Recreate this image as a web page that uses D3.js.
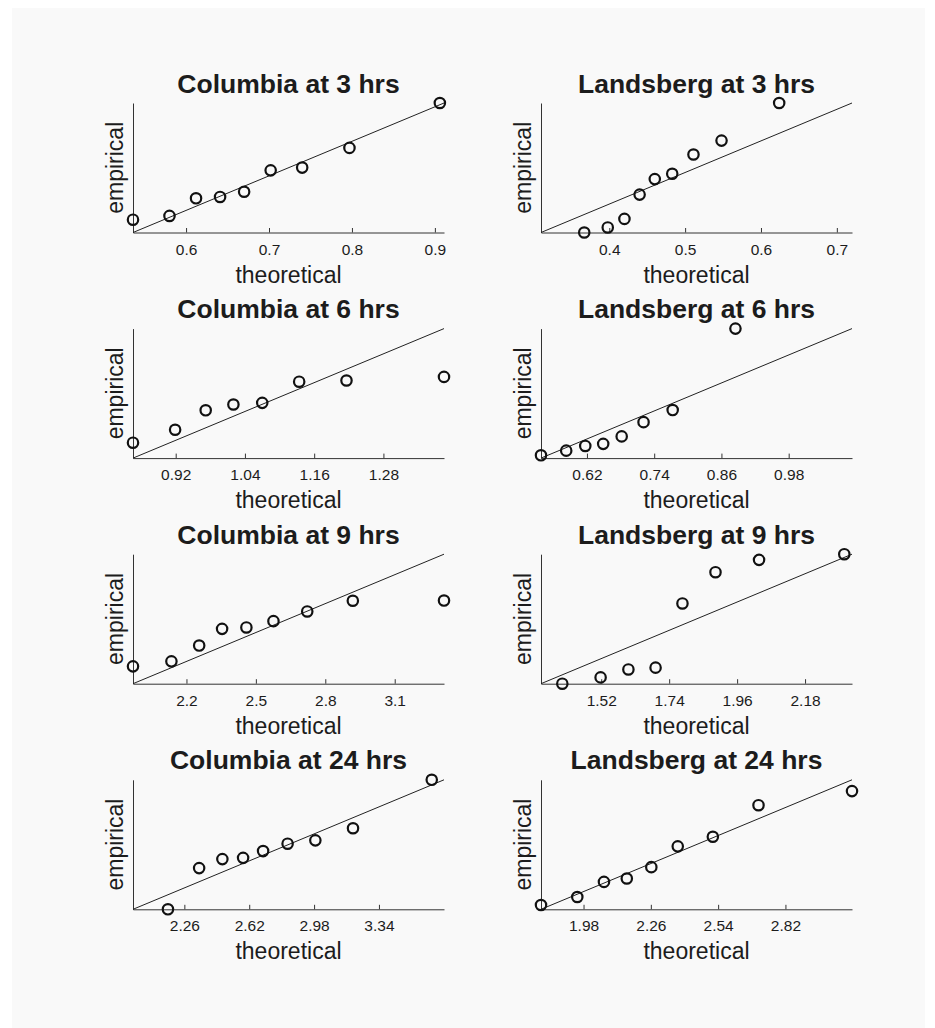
<!DOCTYPE html>
<html lang="en">
<head>
    <meta charset="UTF-8">
    <title>Q-Q plots: Columbia and Landsberg</title>
    <style>
        body {
            margin: 0;
            background: #fff;
            font-family: 'Liberation Sans', Arial, sans-serif;
        }
        .title {
            font-size: 26.5px;
            font-weight: bold;
            fill: #1c1c1c;
        }
        .label {
            font-size: 23px;
            fill: #1c1c1c;
        }
        .axis text {
            font-size: 15.5px;
            fill: #1c1c1c;
            font-family: 'Liberation Sans', Arial, sans-serif;
        }
        .axis path, .axis line {
            stroke: #333;
        }
    </style>
</head>
<body>
    <div id="chart"></div>
    <script src="https://d3js.org/d3.v7.min.js"></script>
    <script>
        const width = 935;
        const height = 1028;

        // Panel titles, in reading order
        const titles = [
            "Columbia at 3 hrs", "Landsberg at 3 hrs",
            "Columbia at 6 hrs", "Landsberg at 6 hrs",
            "Columbia at 9 hrs", "Landsberg at 9 hrs",
            "Columbia at 24 hrs", "Landsberg at 24 hrs"
        ];

        // theoretical vs empirical quantiles
        const col3Theo = [0.536, 0.580, 0.612, 0.641, 0.670, 0.702, 0.740, 0.797, 0.906];
        const col3Emp  = [0.573, 0.584, 0.635, 0.639, 0.654, 0.716, 0.724, 0.781, 0.911];
        const lan3Theo = [0.367, 0.398, 0.420, 0.440, 0.460, 0.483, 0.511, 0.548, 0.624];
        const lan3Emp  = [0.310, 0.326, 0.353, 0.430, 0.479, 0.496, 0.557, 0.601, 0.720];

        const col6Theo = [0.846, 0.919, 0.972, 1.020, 1.070, 1.134, 1.216, 1.385];
        const col6Emp  = [0.910, 0.964, 1.045, 1.069, 1.076, 1.164, 1.169, 1.184];
        const lan6Theo = [0.538, 0.583, 0.617, 0.649, 0.682, 0.721, 0.773, 0.885];
        const lan6Emp  = [0.550, 0.570, 0.590, 0.599, 0.631, 0.692, 0.744, 1.093];

        const col9Theo = [1.969, 2.135, 2.255, 2.354, 2.459, 2.576, 2.722, 2.919, 3.313];
        const col9Emp  = [2.149, 2.201, 2.365, 2.538, 2.553, 2.618, 2.719, 2.830, 2.832];
        const lan9Theo = [1.394, 1.518, 1.608, 1.696, 1.783, 1.890, 2.031, 2.307];
        const lan9Emp  = [1.325, 1.374, 1.436, 1.450, 1.949, 2.192, 2.288, 2.332];

        const col24Theo = [2.169, 2.342, 2.471, 2.586, 2.697, 2.833, 2.987, 3.196, 3.633];
        const col24Emp  = [1.975, 2.524, 2.644, 2.661, 2.751, 2.849, 2.894, 3.055, 3.701];
        const lan24Theo = [1.803, 1.954, 2.065, 2.160, 2.262, 2.372, 2.518, 2.708, 3.097];
        const lan24Emp  = [1.846, 1.926, 2.077, 2.111, 2.224, 2.432, 2.528, 2.843, 2.984];

        // x tick values per panel
        const col3Ticks = [0.6, 0.7, 0.8, 0.9];
        const lan3Ticks = [0.4, 0.5, 0.6, 0.7];
        const col6Ticks = [0.92, 1.04, 1.16, 1.28];
        const lan6Ticks = [0.62, 0.74, 0.86, 0.98];
        const col9Ticks = [2.2, 2.5, 2.8, 3.1];
        const lan9Ticks = [1.52, 1.74, 1.96, 2.18];
        const col24Ticks = [2.26, 2.62, 2.98, 3.34];
        const lan24Ticks = [1.98, 2.26, 2.54, 2.82];

        const panels = [
            [col3Theo, col3Emp, col3Ticks], [lan3Theo, lan3Emp, lan3Ticks],
            [col6Theo, col6Emp, col6Ticks], [lan6Theo, lan6Emp, lan6Ticks],
            [col9Theo, col9Emp, col9Ticks], [lan9Theo, lan9Emp, lan9Ticks],
            [col24Theo, col24Emp, col24Ticks], [lan24Theo, lan24Emp, lan24Ticks]
        ].map((p, i) => ({ title: titles[i], theo: p[0], emp: p[1], ticks: p[2] }));

        // layout of the plot areas
        const colX = [133, 541];
        const rowY0 = 103, rowStep = 225.6;
        const pw = 311, ph = 129.5;

        const svg = d3.select("#chart")
            .append("svg")
            .attr("width", width)
            .attr("height", height);

        svg.append("rect")
            .attr("x", 12).attr("y", 8)
            .attr("width", 913).attr("height", 1020)
            .attr("fill", "#f9f9f9");

        panels.forEach((p, i) => {
            const col = i % 2, row = Math.floor(i / 2);
            const g = svg.append("g")
                .attr("transform", `translate(${colX[col]},${rowY0 + row * rowStep})`);

            // same domain on both axes so the reference line is y = x
            const domain = d3.extent(p.theo.concat(p.emp));
            const x = d3.scaleLinear().domain(domain).range([0, pw]);
            const y = d3.scaleLinear().domain(domain).range([ph, 0]);

            g.append("g")
                .attr("class", "axis")
                .attr("transform", `translate(0,${ph})`)
                .call(d3.axisBottom(x)
                    .tickValues(p.ticks)
                    .tickFormat(d => String(d))
                    .tickSize(-4.5)
                    .tickSizeOuter(0)
                    .tickPadding(11));

            g.append("g")
                .attr("class", "axis")
                .call(d3.axisLeft(y).tickValues([]).tickSizeOuter(0));

            g.append("line")
                .attr("x1", x(domain[0])).attr("y1", y(domain[0]))
                .attr("x2", x(domain[1])).attr("y2", y(domain[1]))
                .attr("stroke", "#222")
                .attr("stroke-width", 1);

            g.selectAll("circle")
                .data(p.theo.map((t, j) => [t, p.emp[j]]))
                .enter().append("circle")
                .attr("cx", d => x(d[0]))
                .attr("cy", d => y(d[1]))
                .attr("r", 5.2)
                .attr("fill", "none")
                .attr("stroke", "#111")
                .attr("stroke-width", 2.2);

            g.append("text")
                .attr("class", "title")
                .attr("x", pw / 2)
                .attr("y", -10.5)
                .attr("text-anchor", "middle")
                .text(p.title);

            g.append("text")
                .attr("class", "label")
                .attr("transform", `translate(-10,${ph / 2}) rotate(-90)`)
                .attr("text-anchor", "middle")
                .text("empirical");

            g.append("text")
                .attr("class", "label")
                .attr("x", pw / 2)
                .attr("y", ph + 50)
                .attr("text-anchor", "middle")
                .text("theoretical");
        });
    </script>
</body>
</html>
